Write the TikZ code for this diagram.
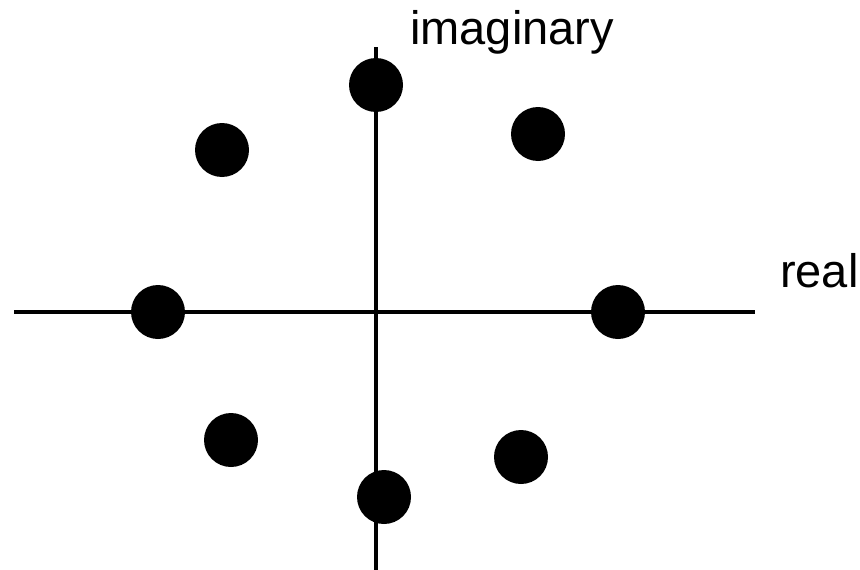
\documentclass[tikz,border=0pt]{standalone}
\usepackage{fontspec}
\setmainfont{Liberation Sans}
\usetikzlibrary{positioning}
\tikzset{
  axis/.style={line width=4pt,draw=black},
  pole/.style={circle,fill=black,draw=none,minimum size=54pt,inner sep=0pt},
  axislabel/.style={font=\fontsize{47}{56}\selectfont,inner sep=0pt,anchor=base west}
}
\begin{document}
\begin{tikzpicture}[x=1pt,y=-1pt]
\useasboundingbox (0,0) rectangle (860,570);
% axes
\coordinate (left) at (14,312);
\coordinate (right) at (755,312);
\coordinate (top) at (376,47);
\coordinate (bottom) at (376,570);
\draw[axis] (left) -- (right);
\draw[axis] (bottom) -- (top);
\node[axislabel] (imlabel) at (410,45) {imaginary};
\node[axislabel] (relabel) at (780,287) {real};
% points
\node[pole] (p1) at (376,85) {};
\node[pole] (p2) at (538,134) {};
\node[pole] (p3) at (222,150) {};
\node[pole] (p4) at (158,312) {};
\node[pole] (p5) at (618,312) {};
\node[pole] (p6) at (231,440) {};
\node[pole] (p7) at (521,457) {};
\node[pole] (p8) at (384,497) {};
\end{tikzpicture}
\end{document}
